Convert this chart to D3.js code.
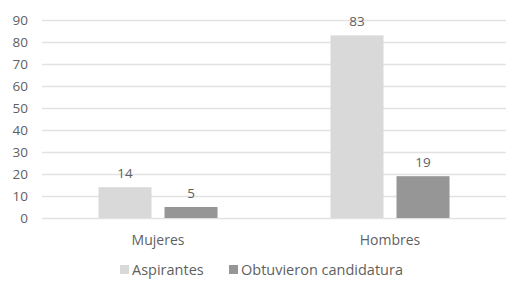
<!DOCTYPE html>
<html><head><meta charset="utf-8">
<script src="https://cdn.jsdelivr.net/npm/d3@7"></script>
<style>body{margin:0;background:#fff;}svg{display:block;font-family:"Open Sans",sans-serif;}</style>
</head><body><svg id="c" width="521" height="287"></svg>
<script>
const categories = ["Mujeres", "Hombres"];
const seriesNames = ["Aspirantes", "Obtuvieron candidatura"];
const aspirantes = [14, 83];
const obtuvieron = [5, 19];
const yTicks = [0, 10, 20, 30, 40, 50, 60, 70, 80, 90];
const colors = ["#d9d9d9", "#969696"];

(function(){
const svg = d3.select("#c");
const mLeft = 42, mRight = 506, mTop = 20, mBottom = 218;
const y = d3.scaleLinear().domain([0, 90]).range([mBottom, mTop]);
const x0 = d3.scaleBand().domain(categories).range([mLeft, mRight]).paddingInner(0.487).paddingOuter(0.2435);
const x1 = d3.scaleBand().domain(seriesNames).range([0, x0.bandwidth()]).paddingInner(0.197).paddingOuter(0);
const txt = "#5f5f5f";
const ff = "'Open Sans',sans-serif";

const yAxis = d3.axisLeft(y).tickValues(yTicks).tickSize(-(mRight - mLeft)).tickPadding(14);
const ga = svg.append("g").attr("transform", `translate(${mLeft},0)`).call(yAxis);
ga.select(".domain").remove();
ga.selectAll(".tick line").attr("stroke", "#e2e2e2").attr("stroke-width", 1.5);
ga.selectAll(".tick text").attr("fill", txt).attr("font-size", 13.5).attr("font-family", ff);

const data = categories.map((c, i) => ({cat: c, vals: [aspirantes[i], obtuvieron[i]]}));
const g = svg.append("g");
data.forEach(d => {
  d.vals.forEach((v, j) => {
    const xs = x0(d.cat) + x1(seriesNames[j]);
    g.append("rect").attr("x", xs).attr("y", y(v)).attr("width", x1.bandwidth())
      .attr("height", y(0) - y(v)).attr("fill", colors[j]);
    g.append("text").attr("x", xs + x1.bandwidth() / 2).attr("y", y(v) - 9)
      .attr("text-anchor", "middle").attr("fill", txt).attr("font-size", 13.5).text(v);
  });
});

const xAxis = d3.axisBottom(x0).tickSize(0).tickPadding(17);
const gx = svg.append("g").attr("transform", `translate(0,${mBottom})`).call(xAxis);
gx.select(".domain").remove();
gx.selectAll(".tick text").attr("fill", txt).attr("font-size", 14).attr("font-family", ff);

const legX = [120, 229];
seriesNames.forEach((s, j) => {
  svg.append("rect").attr("x", legX[j]).attr("y", 265).attr("width", 9).attr("height", 9).attr("fill", colors[j]);
  svg.append("text").attr("x", legX[j] + 12).attr("y", 275).attr("fill", txt).attr("font-size", 14.5).text(s);
});
})();
</script></body></html>
